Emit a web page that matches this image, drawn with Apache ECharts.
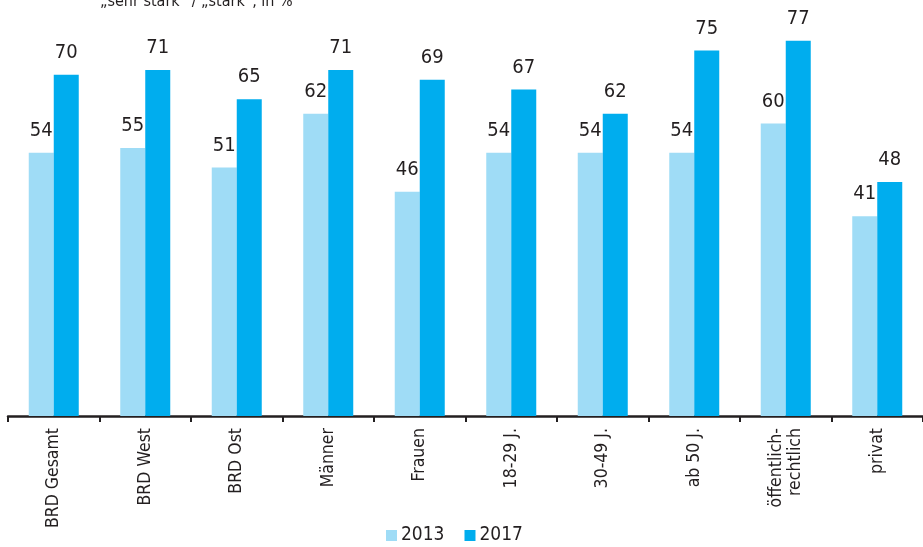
<!DOCTYPE html>
<html><head><meta charset="utf-8">
<script src="https://cdn.jsdelivr.net/npm/echarts@6/dist/echarts.min.js"></script>
<style>html,body{margin:0;padding:0;background:#fff}#c{width:923px;height:547px}</style>
</head><body><div id="c"></div>
<script>
const categories = ['BRD Gesamt','BRD West','BRD Ost','Männer','Frauen','18-29 J.','30-49 J.','ab 50 J.','öffentlich-\nrechtlich','privat'];
const values2013 = [54,55,51,62,46,54,54,54,60,41];
const values2017 = [70,71,65,71,69,67,62,75,77,48];
const seriesNames = ['2013','2017'];
const FONT = '"DejaVu Sans Condensed","Liberation Sans",Arial,sans-serif';
const chart = echarts.init(document.getElementById('c'));
const lbl = {show:true, position:'top', distance:12, color:'#231f20', fontSize:20, fontFamily:FONT};
chart.setOption({
  animation:false,
  title:{text:'„sehr stark“ / „stark“, in %', left:95, top:-11, textStyle:{fontSize:16, fontWeight:'normal', color:'#231f20', fontFamily:FONT}},
  legend:{bottom:-3, left:381, itemWidth:11, itemHeight:11, itemGap:20, icon:'rect', textStyle:{fontSize:19, color:'#231f20', fontFamily:FONT, padding:[0,0,0,-1]}, data:seriesNames},
  grid:{left:8, right:0, top:26, bottom:131},
  xAxis:{type:'category', data:categories,
    axisLine:{lineStyle:{color:'#231f20', width:2.5}},
    axisTick:{show:true, length:6, lineStyle:{color:'#231f20', width:2}},
    axisLabel:{rotate:90, fontSize:17.5, color:'#231f20', fontFamily:FONT, margin:12, lineHeight:19}},
  yAxis:{type:'value', min:0, max:80, show:false, splitLine:{show:false}},
  series:[
    {name:seriesNames[0], type:'bar', data:values2013, barWidth:25, barGap:'0%', itemStyle:{color:'#9fdcf6'}, label:lbl},
    {name:seriesNames[1], type:'bar', data:values2017, barWidth:25, barGap:'0%', itemStyle:{color:'#00adee'}, label:lbl}
  ]
});
</script></body></html>
